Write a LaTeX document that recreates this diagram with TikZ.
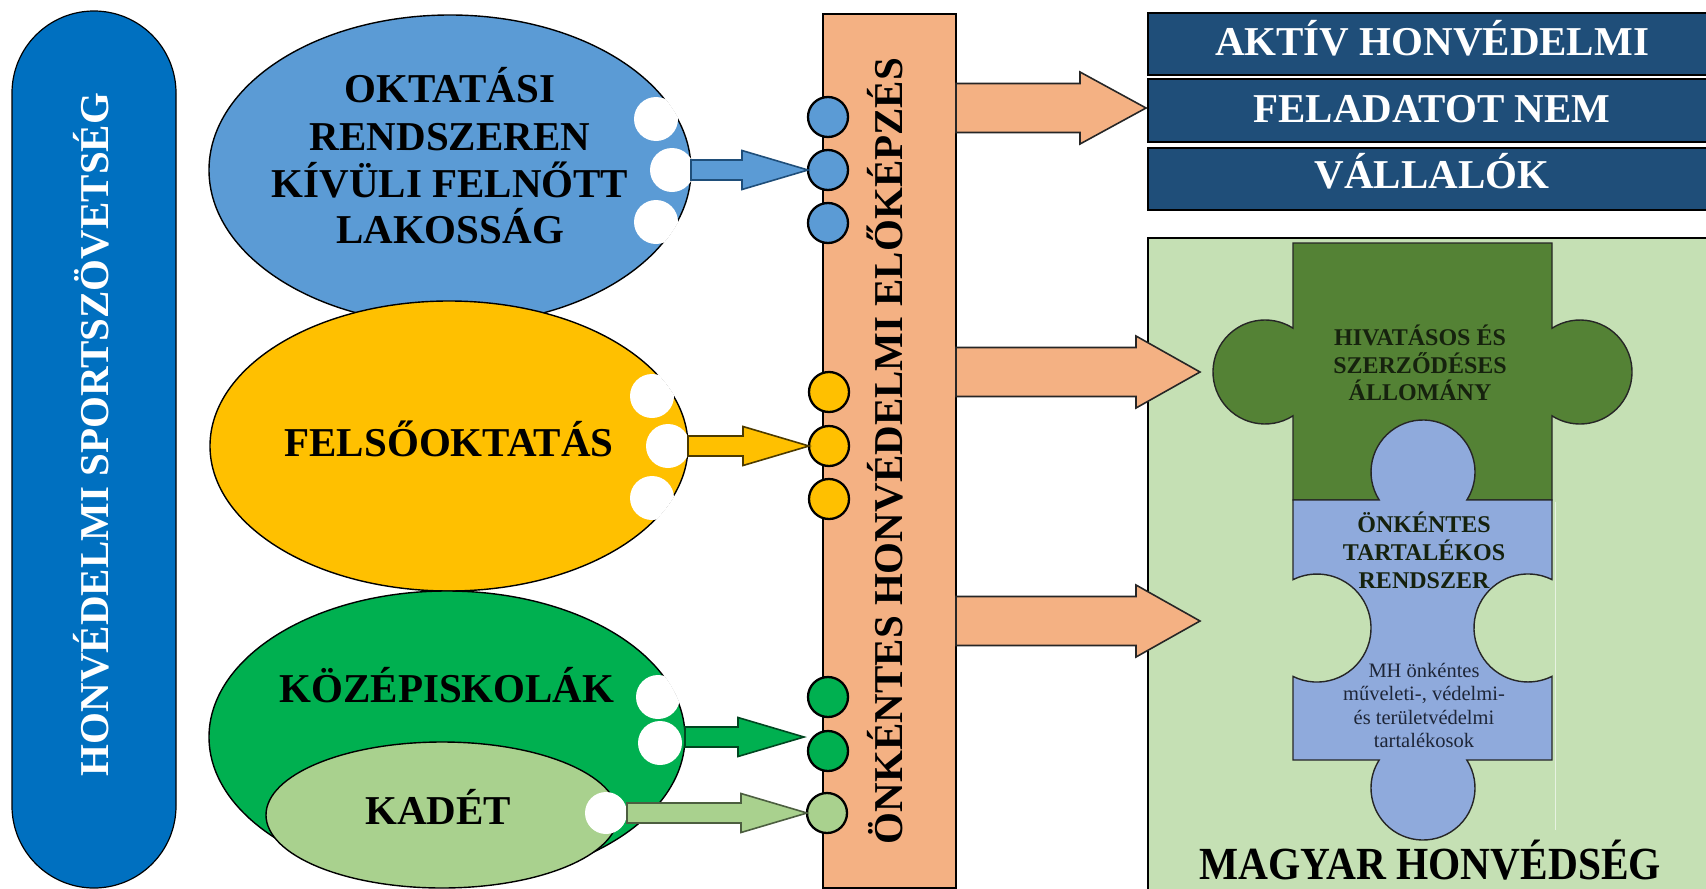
\documentclass[tikz,border=0pt]{standalone}
\usepackage{fontspec}
\setmainfont{Liberation Serif}
\usetikzlibrary{shapes.geometric,calc}
\definecolor{pillblue}{HTML}{0070C0}
\definecolor{ellblue}{HTML}{5B9BD5}
\definecolor{ellyellow}{HTML}{FFC000}
\definecolor{ellgreen}{HTML}{00B050}
\definecolor{ellkadet}{HTML}{A9D18E}
\definecolor{barorange}{HTML}{F4B183}
\definecolor{boxnavy}{HTML}{1F4E79}
\definecolor{bggreen}{HTML}{C5E0B4}
\definecolor{pzgreen}{HTML}{548235}
\definecolor{pzblue}{HTML}{8FAADC}
\definecolor{pztext}{HTML}{16220E}
\definecolor{smalltext}{HTML}{1E2638}
% #1 style, #2 start, #3 tip, #4 shaft half height, #5 head half height, #6 head length
\newcommand{\blockarr}[6]{%
  \draw[#1] ($(#2)+(0,-#4)$) -- ($(#3)+(-#6,-#4)$) -- ($(#3)+(-#6,-#5)$) -- (#3)
    -- ($(#3)+(-#6,#5)$) -- ($(#3)+(-#6,#4)$) -- ($(#2)+(0,#4)$) -- cycle;}
\begin{document}
\begin{tikzpicture}[x=1pt,y=1pt,yscale=-1,
  lbl/.style={anchor=base, inner sep=0pt, font=\fontsize{41}{41}\selectfont\bfseries},
  pzlbl/.style={anchor=base, inner sep=0pt, text=pztext, font=\fontsize{24}{24}\selectfont\bfseries},
  smlbl/.style={anchor=base, inner sep=0pt, text=smalltext, font=\fontsize{20.5}{20.5}\selectfont},
  bigell/.style={ellipse, draw=black, line width=1.4pt, inner sep=0pt, outer sep=0pt},
  dot/.style={circle, draw=black, line width=2.3pt, minimum size=40pt, inner sep=0pt, outer sep=0pt},
  navybox/.style={draw=black, line width=1.8pt, fill=boxnavy, inner sep=0pt, outer sep=0pt},
  arrblue/.style={fill=ellblue, draw=boxnavy, line width=1.6pt, line join=miter},
  arryellow/.style={fill=ellyellow, draw=black!70!ellyellow, line width=1.6pt, line join=miter},
  arrgreen/.style={fill=ellgreen, draw=black!60!ellgreen, line width=1.6pt, line join=miter},
  arrkadet/.style={fill=ellkadet, draw=black!55!ellkadet, line width=1.6pt, line join=miter},
  arrorange/.style={fill=barorange, draw=black!85, line width=1.6pt, line join=miter}]
\useasboundingbox (0,0) rectangle (1706,889);
\clip (0,0) rectangle (1706,889);

% left pill
\node[draw=black, line width=1.2pt, fill=pillblue, rounded corners=82pt,
      minimum width=164pt, minimum height=877pt, inner sep=0pt, outer sep=0pt] (pill) at (94,449.5) {};
\node[lbl, white, rotate=90] (pilltxt) at (108,434.5) {HONVÉDELMI SPORTSZÖVETSÉG};

% big ellipses
\node[bigell, fill=ellblue, minimum width=482pt, minimum height=310pt] (eb) at (450,170) {};
\node[bigell, fill=ellyellow, minimum width=478pt, minimum height=290pt] (ey) at (449,446) {};
\node[bigell, fill=ellgreen, minimum width=476pt, minimum height=292pt] (eg) at (447,737) {};
\node[bigell, fill=ellkadet, minimum width=352pt, minimum height=146pt] (ek) at (442,815) {};

% white notches
\begin{scope}
  \clip (450,170) ellipse [x radius=242, y radius=156];
  \fill[white] (656,119) circle [radius=22];
  \fill[white] (672,170) circle [radius=22];
  \fill[white] (656,222) circle [radius=22];
\end{scope}
\begin{scope}
  \clip (449,446) ellipse [x radius=240, y radius=146];
  \fill[white] (652,396) circle [radius=22];
  \fill[white] (668,446) circle [radius=22];
  \fill[white] (652,498) circle [radius=22];
\end{scope}
\begin{scope}
  \clip (447,737) ellipse [x radius=239, y radius=147];
  \fill[white] (658,697) circle [radius=22];
  \fill[white] (660,743) circle [radius=22];
\end{scope}
\node[circle, fill=white, minimum size=42pt, inner sep=0pt, outer sep=0pt] (wk) at (606,813) {};

% ellipse labels
\node[lbl] (t1a) at (450,102) {OKTATÁSI};
\node[lbl] (t1b) at (450,150) {RENDSZEREN};
\node[lbl] (t1c) at (450,197) {KÍVÜLI FELNŐTT};
\node[lbl] (t1d) at (450,243) {LAKOSSÁG};
\node[lbl] (t2) at (449,456) {FELSŐOKTATÁS};
\node[lbl] (t3) at (447,702) {KÖZÉPISKOLÁK};
\node[lbl] (t4) at (438,824) {KADÉT};

% central bar
\node[draw=black, line width=1.6pt, fill=barorange, minimum width=133pt, minimum height=874pt,
      inner sep=0pt, outer sep=0pt] (bar) at (889.5,451) {};
\node[lbl, rotate=90] (bartxt) at (902,451) {ÖNKÉNTES HONVÉDELMI ELŐKÉPZÉS};

% dots on the bar
\node[dot, fill=ellblue] (cb1) at (828,117) {};
\node[dot, fill=ellblue] (cb2) at (828,170) {};
\node[dot, fill=ellblue] (cb3) at (828,223) {};
\node[dot, fill=ellyellow] (cy1) at (829,392) {};
\node[dot, fill=ellyellow] (cy2) at (829,446) {};
\node[dot, fill=ellyellow] (cy3) at (829,499) {};
\node[dot, fill=ellgreen] (cg1) at (828,697) {};
\node[dot, fill=ellgreen] (cg2) at (828,751) {};
\node[dot, fill=ellkadet] (ck) at (827,813) {};

% arrows into the bar
\coordinate (tg) at (804,737);
\blockarr{arrblue}{eb.east}{cb2.west}{10}{19.5}{66}
\blockarr{arryellow}{ey.east}{cy2.west}{10}{19.5}{66}
\blockarr{arrgreen}{eg.east}{tg}{10}{19.5}{66}
\blockarr{arrkadet}{wk.east}{ck.west}{10}{19.5}{66}

% right side: navy boxes
\node[navybox, minimum width=572pt, minimum height=62pt] (b1) at (1434,44) {};
\node[navybox, minimum width=572pt, minimum height=63pt] (b2) at (1434,110.5) {};
\node[navybox, minimum width=572pt, minimum height=62pt] (b3) at (1434,179) {};
\node[lbl, white] (b1t) at (1432,55.5) {AKTÍV HONVÉDELMI};
\node[lbl, white] (b2t) at (1432,122) {FELADATOT NEM};
\node[lbl, white] (b3t) at (1432,188.5) {VÁLLALÓK};

% green background box
\node[draw=black, line width=1.8pt, fill=bggreen, minimum width=572pt, minimum height=662pt,
      inner sep=0pt, outer sep=0pt] (mh) at (1434,569) {};

% puzzle pieces
\draw[fill=pzgreen, draw=black!85, line width=1.4pt]
  (1293,243) -- (1552,243) -- (1552,328.2) arc[start angle=-122.6, end angle=122.6, radius=52]
  -- (1552,500) -- (1293,500) -- (1293,415.8) arc[start angle=57.4, end angle=302.6, radius=52] -- cycle;
\draw[fill=pzblue, draw=black!85, line width=1.4pt]
  (1293,500) -- (1379.2,500) arc[start angle=147.4, end angle=392.6, radius=52]
  -- (1552,500) -- (1552,579.6) arc[start angle=-63.6, end angle=-296.4, radius=54]
  -- (1552,760) -- (1466.8,760) arc[start angle=-32.6, end angle=212.6, radius=52]
  -- (1293,760) -- (1293,676.4) arc[start angle=116.4, end angle=-116.4, radius=54] -- cycle;
\draw[white, opacity=0.6, line width=1pt] (1555,502) -- (1555,830);

\node[pzlbl] (p1) at (1420,345) {HIVATÁSOS ÉS};
\node[pzlbl] (p2) at (1420,373) {SZERZŐDÉSES};
\node[pzlbl] (p3) at (1420,400) {ÁLLOMÁNY};
\node[pzlbl] (p4) at (1424,532) {ÖNKÉNTES};
\node[pzlbl] (p5) at (1424,560) {TARTALÉKOS};
\node[pzlbl] (p6) at (1424,588) {RENDSZER};
\node[smlbl] (s1) at (1424,677) {MH önkéntes};
\node[smlbl] (s2) at (1424,700.5) {műveleti-, védelmi-};
\node[smlbl] (s3) at (1424,724) {és területvédelmi};
\node[smlbl] (s4) at (1424,747.5) {tartalékosok};
\node[lbl, font=\fontsize{46}{46}\selectfont\bfseries, xscale=0.9] (mht) at (1430,879) {MAGYAR HONVÉDSÉG};

% orange arrows out of the bar
\coordinate (ot1) at (1146,108);
\coordinate (ot2) at (1200,372);
\coordinate (ot3) at (1200,621);
\coordinate (os1) at (bar.east |- ot1);
\coordinate (os2) at (bar.east |- ot2);
\coordinate (os3) at (bar.east |- ot3);
\blockarr{arrorange}{os1}{ot1}{24.5}{36}{66}
\blockarr{arrorange}{os2}{ot2}{24.5}{36}{64}
\blockarr{arrorange}{os3}{ot3}{24.5}{36}{64}
\end{tikzpicture}
\end{document}
